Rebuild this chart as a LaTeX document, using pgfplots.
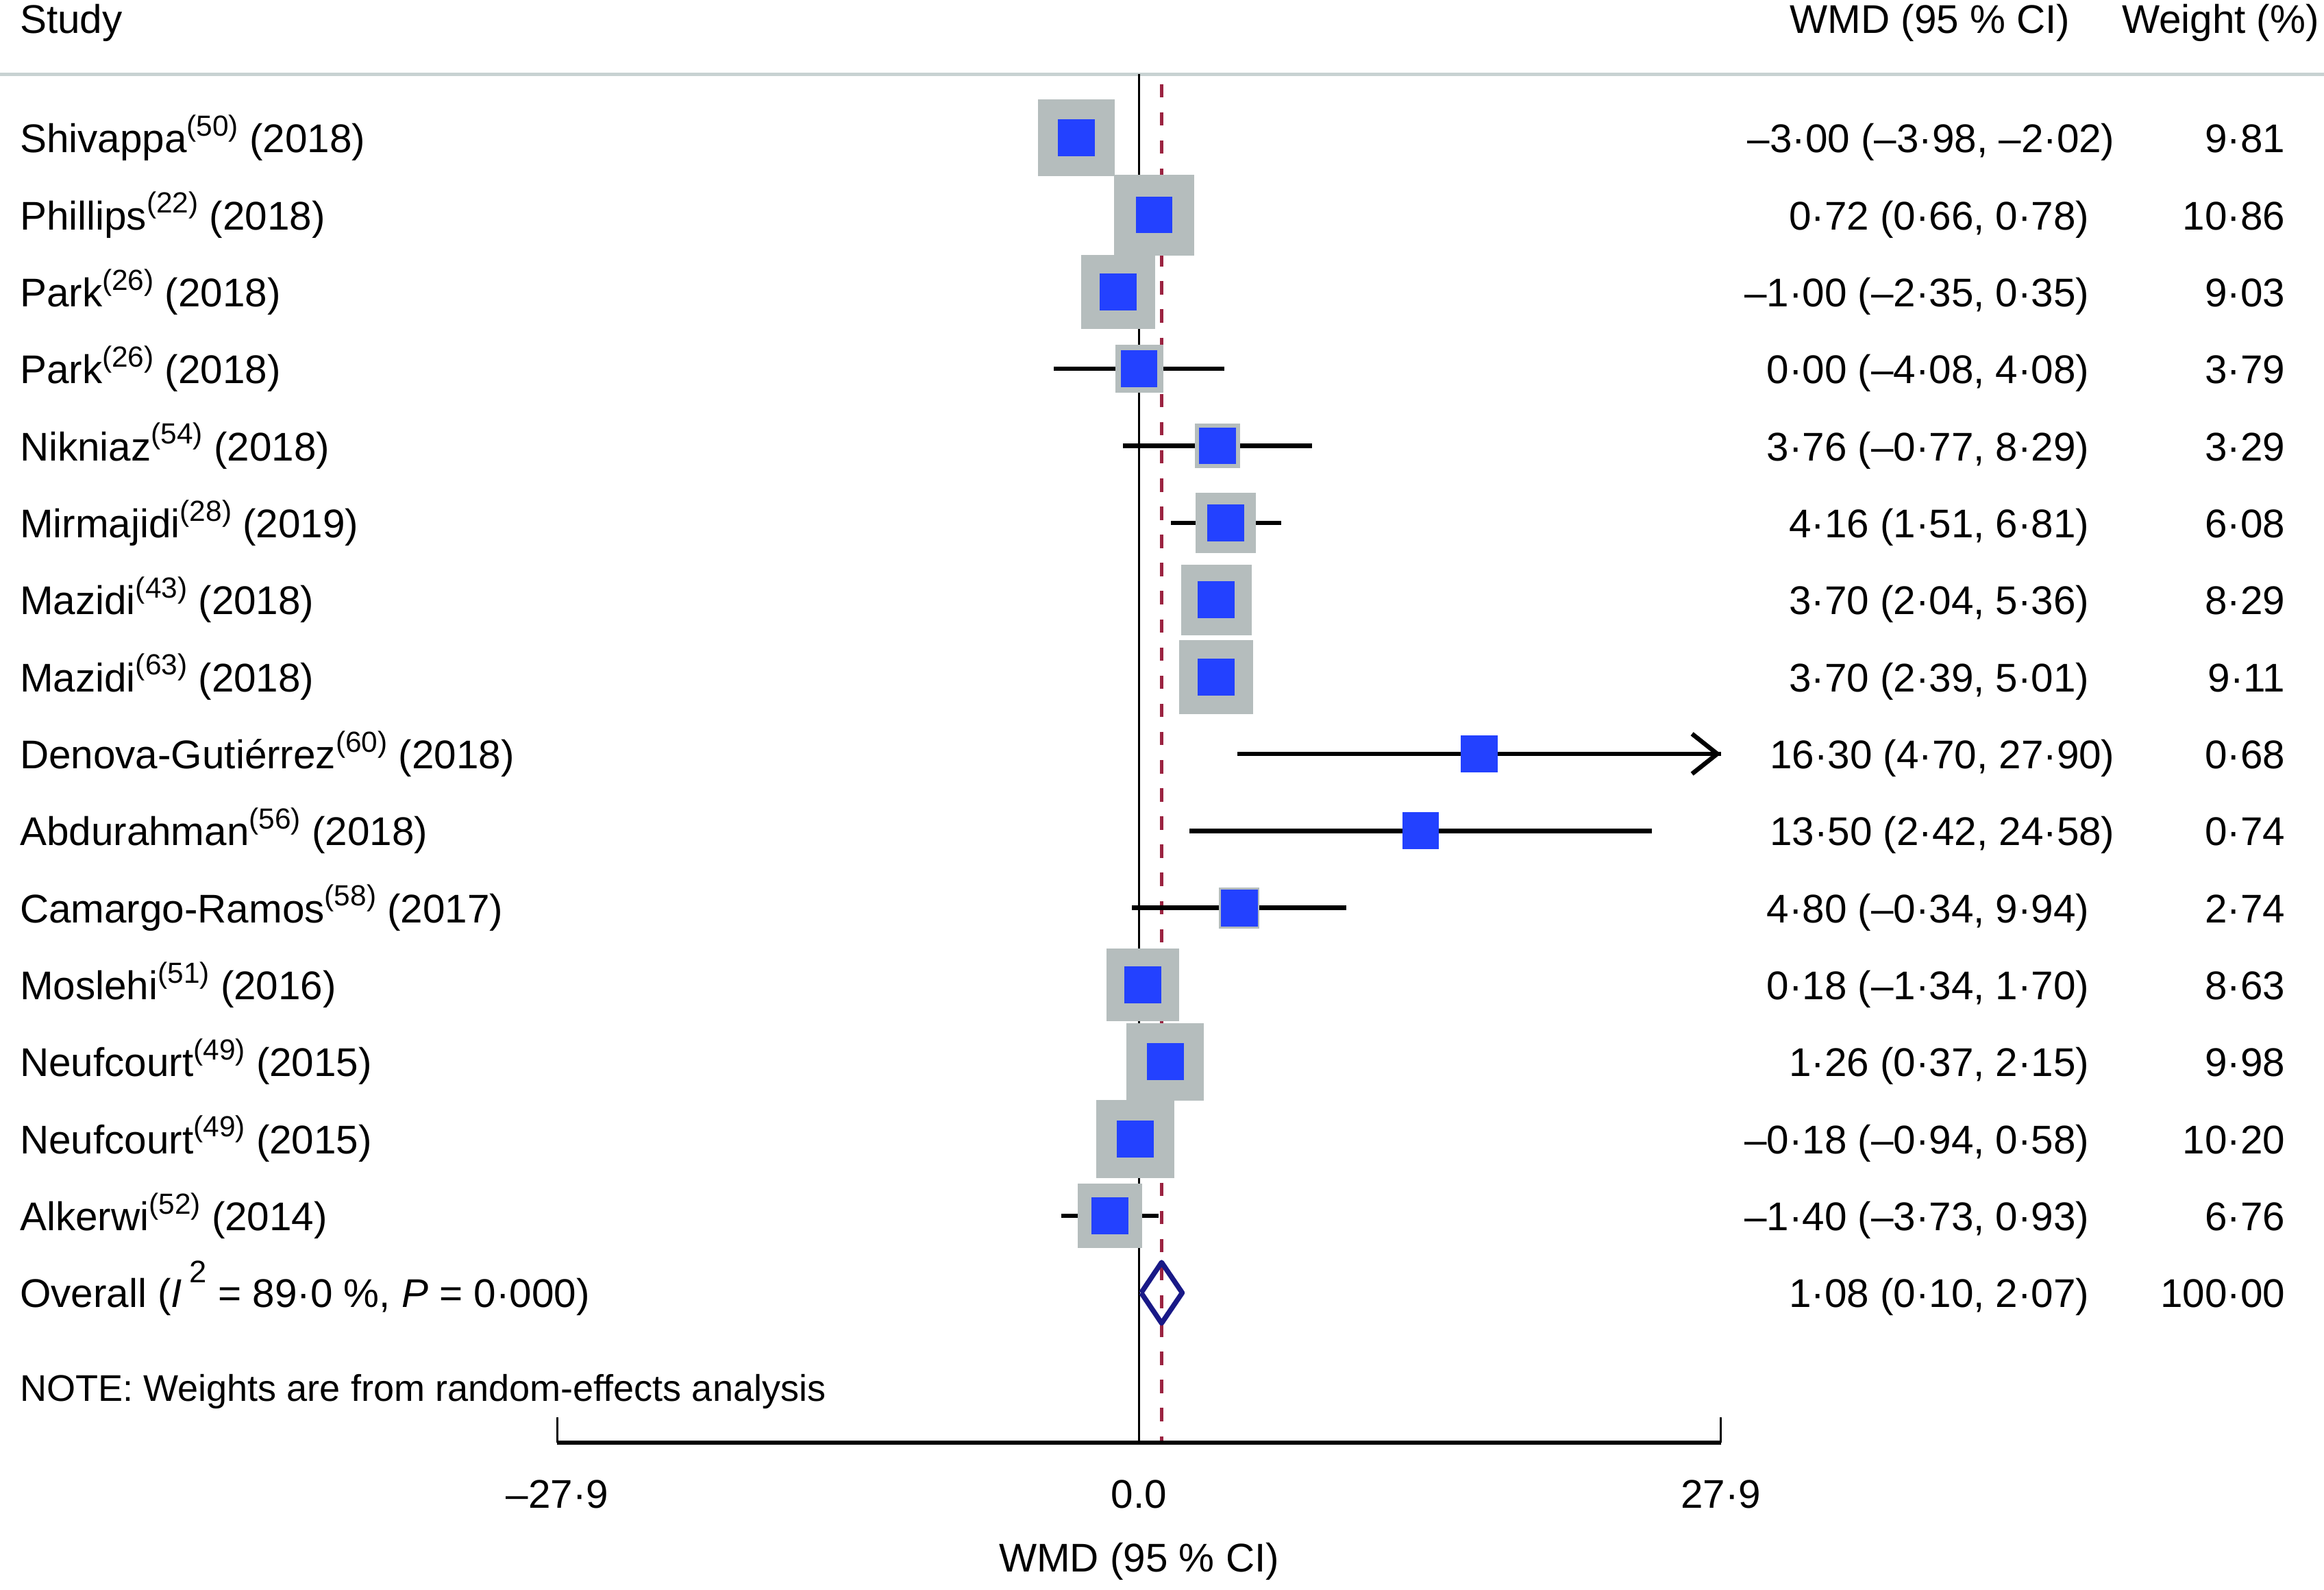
\documentclass[border=0pt]{standalone}
\usepackage{fontspec}
\setmainfont{Liberation Sans}
\usepackage{pgfplots}
\usepackage{pgfplotstable}
\pgfplotsset{compat=1.18}
\usetikzlibrary{arrows.meta}

\definecolor{boxgray}{RGB}{181,189,189}
\definecolor{markblue}{RGB}{35,65,255}
\definecolor{dianavy}{RGB}{25,25,135}
\definecolor{ovred}{RGB}{155,35,65}
\definecolor{hdrline}{RGB}{200,210,210}

% row, estimate, 95% CI, weight (%)
\pgfplotstableread{
row est lo hi w
1 -3.00 -3.98 -2.02 9.81
2 0.72 0.66 0.78 10.86
3 -1.00 -2.35 0.35 9.03
4 0.00 -4.08 4.08 3.79
5 3.76 -0.77 8.29 3.29
6 4.16 1.51 6.81 6.08
7 3.70 2.04 5.36 8.29
8 3.70 2.39 5.01 9.11
9 16.30 4.70 27.90 0.68
10 13.50 2.42 24.58 0.74
11 4.80 -0.34 9.94 2.74
12 0.18 -1.34 1.70 8.63
13 1.26 0.37 2.15 9.98
14 -0.18 -0.94 0.58 10.20
15 -1.40 -3.73 0.93 6.76
}\studies

\newcommand{\rf}[1]{\raisebox{0.42em}{\fontsize{9.8}{10}\selectfont(#1)}}
\newcommand{\st}[3]{#1\rf{#2} (#3)}

\begin{document}
\begin{tikzpicture}[font=\fontsize{13.5}{16}\selectfont,
  lab/.style={anchor=base west, inner sep=0pt, yshift=-5pt},
  wmd/.style={anchor=base east, inner sep=0pt, yshift=-5pt}]
\begin{axis}[
  scale only axis, width=784pt, height=536pt,
  xmin=-54.63, xmax=56.83, ymin=-0.791, ymax=19.852, y dir=reverse,
  axis lines=none, clip=false,
]
% header
\node[lab] at (axis cs:-53.70,-0.55) {Study};
\node[wmd] at (axis cs:44.68,-0.55) {WMD (95 \% CI)};
\node[wmd] at (axis cs:56.62,-0.55) {Weight (\%)};
\draw[hdrline, line width=1.15pt] (axis cs:-54.63,0.172) -- (axis cs:56.83,0.172);

% no-effect line and overall line
\draw[line width=0.8pt] (axis cs:0,0.172) -- (axis cs:0,17.946);
\addplot[ovred, line width=1pt, dash pattern=on 4.5pt off 5pt, forget plot]
  coordinates {(1.08,0.3) (1.08,17.946)};

% weight boxes
\addplot[scatter, only marks, mark=square*,
  scatter/use mapped color={draw=boxgray, fill=boxgray},
  visualization depends on={4.1*sqrt(\thisrow{w}) \as \msize},
  scatter/@pre marker code/.append style={/tikz/mark size=\msize},
  mark options={line width=0pt}]
  table[x=est, y=row] \studies;

% confidence intervals
\addplot[only marks, mark=none,
  error bars/.cd, x dir=both, x explicit, error mark=none,
  error bar style={line width=1.5pt, black}]
  table[x=est, y=row,
    x error minus expr=\thisrow{est}-\thisrow{lo},
    x error plus expr=\thisrow{hi}-\thisrow{est}] \studies;
\addplot[black, line width=1.5pt, -{Straight Barb[length=8.5pt,width=13.5pt]}]
  coordinates {(16.30,9) (27.9,9)};

% point estimates
\addplot[only marks, mark=square*, mark size=6.1pt,
  mark options={markblue, line width=0pt}]
  table[x=est, y=row] \studies;

% overall diamond
\addplot[dianavy, line width=1.7pt, line join=round]
  coordinates {(0.10,16) (1.08,15.605) (2.07,16) (1.08,16.395) (0.10,16)};

% study labels
\node[lab] at (axis cs:-53.70,1) {\st{Shivappa}{50}{2018}};
\node[lab] at (axis cs:-53.70,2) {\st{Phillips}{22}{2018}};
\node[lab] at (axis cs:-53.70,3) {\st{Park}{26}{2018}};
\node[lab] at (axis cs:-53.70,4) {\st{Park}{26}{2018}};
\node[lab] at (axis cs:-53.70,5) {\st{Nikniaz}{54}{2018}};
\node[lab] at (axis cs:-53.70,6) {\st{Mirmajidi}{28}{2019}};
\node[lab] at (axis cs:-53.70,7) {\st{Mazidi}{43}{2018}};
\node[lab] at (axis cs:-53.70,8) {\st{Mazidi}{63}{2018}};
\node[lab] at (axis cs:-53.70,9) {\st{Denova-Gutiérrez}{60}{2018}};
\node[lab] at (axis cs:-53.70,10) {\st{Abdurahman}{56}{2018}};
\node[lab] at (axis cs:-53.70,11) {\st{Camargo-Ramos}{58}{2017}};
\node[lab] at (axis cs:-53.70,12) {\st{Moslehi}{51}{2016}};
\node[lab] at (axis cs:-53.70,13) {\st{Neufcourt}{49}{2015}};
\node[lab] at (axis cs:-53.70,14) {\st{Neufcourt}{49}{2015}};
\node[lab] at (axis cs:-53.70,15) {\st{Alkerwi}{52}{2014}};
\node[lab] at (axis cs:-53.70,16) {Overall (\textit{I}\hspace{2.5pt}\raisebox{8.5pt}{\fontsize{10.5}{10}\selectfont 2} = 89·0 \%, \textit{P} = 0·000)};
\node[lab, font=\fontsize{12.5}{15}\selectfont] at (axis cs:-53.70,17.214) {NOTE: Weights are from random-effects analysis};

% WMD column
\node[wmd] at (axis cs:46.82,1) {–3·00 (–3·98, –2·02)};
\node[wmd] at (axis cs:45.60,2) {0·72 (0·66, 0·78)};
\node[wmd] at (axis cs:45.60,3) {–1·00 (–2·35, 0·35)};
\node[wmd] at (axis cs:45.60,4) {0·00 (–4·08, 4·08)};
\node[wmd] at (axis cs:45.60,5) {3·76 (–0·77, 8·29)};
\node[wmd] at (axis cs:45.60,6) {4·16 (1·51, 6·81)};
\node[wmd] at (axis cs:45.60,7) {3·70 (2·04, 5·36)};
\node[wmd] at (axis cs:45.60,8) {3·70 (2·39, 5·01)};
\node[wmd] at (axis cs:46.82,9) {16·30 (4·70, 27·90)};
\node[wmd] at (axis cs:46.82,10) {13·50 (2·42, 24·58)};
\node[wmd] at (axis cs:45.60,11) {4·80 (–0·34, 9·94)};
\node[wmd] at (axis cs:45.60,12) {0·18 (–1·34, 1·70)};
\node[wmd] at (axis cs:45.60,13) {1·26 (0·37, 2·15)};
\node[wmd] at (axis cs:45.60,14) {–0·18 (–0·94, 0·58)};
\node[wmd] at (axis cs:45.60,15) {–1·40 (–3·73, 0·93)};
\node[wmd] at (axis cs:45.60,16) {1·08 (0·10, 2·07)};

% weight column
\node[wmd] at (axis cs:54.99,1) {9·81};
\node[wmd] at (axis cs:54.99,2) {10·86};
\node[wmd] at (axis cs:54.99,3) {9·03};
\node[wmd] at (axis cs:54.99,4) {3·79};
\node[wmd] at (axis cs:54.99,5) {3·29};
\node[wmd] at (axis cs:54.99,6) {6·08};
\node[wmd] at (axis cs:54.99,7) {8·29};
\node[wmd] at (axis cs:54.99,8) {9·11};
\node[wmd] at (axis cs:54.99,9) {0·68};
\node[wmd] at (axis cs:54.99,10) {0·74};
\node[wmd] at (axis cs:54.99,11) {2·74};
\node[wmd] at (axis cs:54.99,12) {8·63};
\node[wmd] at (axis cs:54.99,13) {9·98};
\node[wmd] at (axis cs:54.99,14) {10·20};
\node[wmd] at (axis cs:54.99,15) {6·76};
\node[wmd] at (axis cs:54.99,16) {100·00};

% x axis
\draw[line width=1.3pt] (axis cs:-27.9,17.946) -- (axis cs:27.9,17.946);
\draw[line width=0.6pt] (axis cs:-27.9,17.946) -- (axis cs:-27.9,17.62);
\draw[line width=0.6pt] (axis cs:27.9,17.946) -- (axis cs:27.9,17.62);
\node at (axis cs:-27.9,18.62) {–27·9};
\node at (axis cs:0,18.62) {0.0};
\node at (axis cs:27.9,18.62) {27·9};
\node at (axis cs:0,19.487) {WMD (95 \% CI)};
\end{axis}
\pgfresetboundingbox
\useasboundingbox (current axis.south west) rectangle (current axis.north east);
\end{tikzpicture}
\end{document}
